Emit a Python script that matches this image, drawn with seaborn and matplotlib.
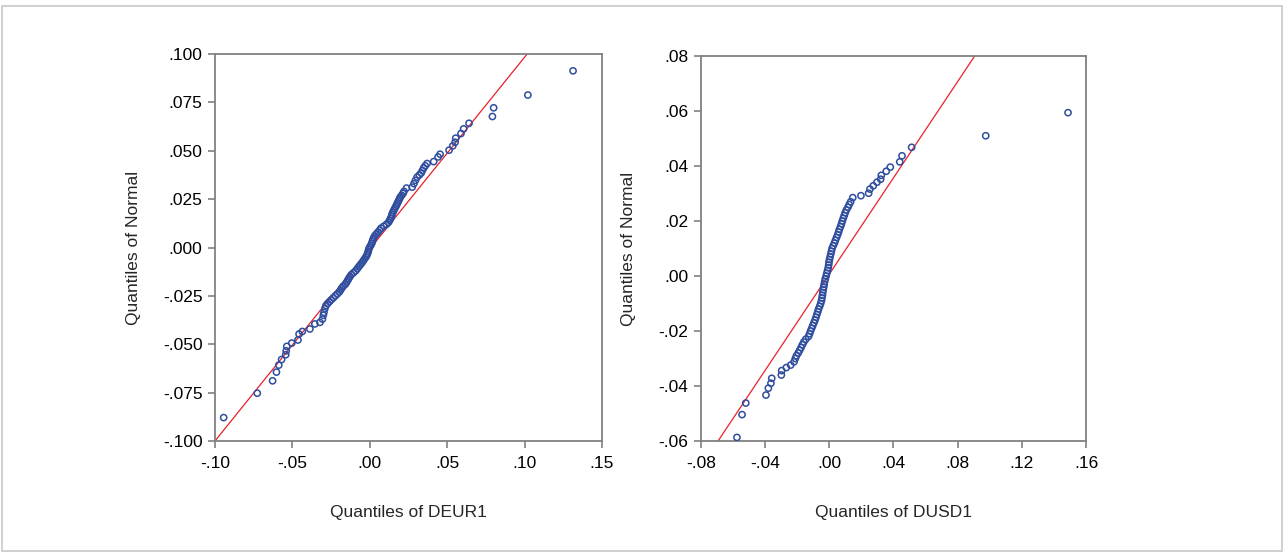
import numpy as np
import pandas as pd
import matplotlib
matplotlib.use("Agg")
import matplotlib.pyplot as plt
import seaborn as sns
from matplotlib.patches import Rectangle

# ---------------- data: left panel (DEUR1) ----------------
eur_x = [-0.0944, -0.0727, -0.0628, -0.0603, -0.0588, -0.0570, -0.0543, -0.0540, -0.0536, -0.0504,
         -0.0464, -0.0457, -0.0436, -0.0387, -0.0355, -0.0322, -0.0306, -0.0300, -0.0296, -0.0290,
         -0.0283, -0.0273, -0.0261, -0.0249, -0.0236, -0.0223, -0.0210, -0.0197, -0.0189, -0.0181,
         -0.0172, -0.0158, -0.0150, -0.0143, -0.0136, -0.0128, -0.0119, -0.0105, -0.0091, -0.0081,
         -0.0072, -0.0062, -0.0052, -0.0043, -0.0035, -0.0026, -0.0019, -0.0014, -0.0010, -0.0007,
         -0.0002, 0.0005, 0.0012, 0.0016, 0.0020, 0.0025, 0.0032, 0.0042, 0.0053, 0.0064,
         0.0073, 0.0090, 0.0108, 0.0121, 0.0128, 0.0134, 0.0140, 0.0143, 0.0148, 0.0154,
         0.0160, 0.0167, 0.0173, 0.0179, 0.0185, 0.0191, 0.0197, 0.0206, 0.0215, 0.0221,
         0.0237, 0.0274, 0.0285, 0.0295, 0.0306, 0.0320, 0.0332, 0.0340, 0.0348, 0.0358,
         0.0370, 0.0413, 0.0441, 0.0454, 0.0512, 0.0536, 0.0551, 0.0555, 0.0589, 0.0606,
         0.0641, 0.0792, 0.0800, 0.1021, 0.1313]
eur_y = [-0.0879, -0.0753, -0.0689, -0.0644, -0.0608, -0.0579, -0.0554, -0.0534, -0.0511, -0.0494,
         -0.0478, -0.0447, -0.0434, -0.0421, -0.0395, -0.0387, -0.0370, -0.0350, -0.0335, -0.0315,
         -0.030, -0.029, -0.028, -0.027, -0.026, -0.025, -0.024, -0.023, -0.022, -0.021,
         -0.020, -0.019, -0.018, -0.017, -0.016, -0.015, -0.014, -0.013, -0.012, -0.011,
         -0.010, -0.009, -0.008, -0.007, -0.006, -0.005, -0.004, -0.003, -0.002, -0.001,
         0.000, 0.001, 0.002, 0.003, 0.004, 0.005, 0.006, 0.007, 0.008, 0.009,
         0.010, 0.011, 0.012, 0.013, 0.014, 0.015, 0.016, 0.017, 0.018, 0.019,
         0.020, 0.021, 0.022, 0.023, 0.024, 0.025, 0.026, 0.027, 0.028, 0.029,
         0.0307, 0.0312, 0.0330, 0.0347, 0.0364, 0.0375, 0.0385, 0.0398, 0.0411, 0.0422,
         0.0434, 0.0444, 0.0468, 0.0482, 0.0503, 0.0525, 0.0544, 0.0565, 0.0589, 0.0613,
         0.0642, 0.0677, 0.0722, 0.0788, 0.0913]
eur_line = [-0.0008, 0.9916]   # intercept, slope of reference line

eur_xticks = [-0.10, -0.05, 0.00, 0.05, 0.10, 0.15]
eur_xticklabels = ["-.10", "-.05", ".00", ".05", ".10", ".15"]
eur_yticks = [-0.100, -0.075, -0.050, -0.025, 0.000, 0.025, 0.050, 0.075, 0.100]
eur_yticklabels = ["-.100", "-.075", "-.050", "-.025", ".000", ".025", ".050", ".075", ".100"]

# ---------------- data: right panel (DUSD1) ----------------
usd_x = [-0.0576, -0.0544, -0.0521, -0.0395, -0.0380, -0.0364, -0.0359, -0.0299, -0.0297, -0.0268,
         -0.0241, -0.0220,
         -0.0212, -0.0205, -0.0194, -0.0185, -0.0176, -0.0168, -0.0159, -0.0147, -0.0130, -0.0123,
         -0.0117, -0.0110, -0.0103, -0.0096, -0.0089, -0.0083, -0.0078, -0.0072, -0.0067, -0.0060,
         -0.0054, -0.0049, -0.0046, -0.0043, -0.0041, -0.0038, -0.0035, -0.0032, -0.0029, -0.0025,
         -0.0020, -0.0016, -0.0011, -0.0007, -0.0004, -0.0002, 0.0001, 0.0005, 0.0009, 0.0013,
         0.0017, 0.0024, 0.0032, 0.0038, 0.0045, 0.0052, 0.0058, 0.0063, 0.0070, 0.0076,
         0.0081, 0.0087, 0.0093, 0.0099, 0.0106, 0.0116, 0.0124,
         0.0133, 0.0146, 0.0197, 0.0245, 0.0253, 0.0274, 0.0297, 0.0320, 0.0324, 0.0355,
         0.0380, 0.0439, 0.0453, 0.0513, 0.0975, 0.1488]
usd_y = [-0.0587, -0.0504, -0.0462, -0.0433, -0.0408, -0.0390, -0.0372, -0.0360, -0.0344, -0.0333,
         -0.0324, -0.0312,
         -0.030, -0.029, -0.028, -0.027, -0.026, -0.025, -0.024, -0.023, -0.022, -0.021,
         -0.020, -0.019, -0.018, -0.017, -0.016, -0.015, -0.014, -0.013, -0.012, -0.011,
         -0.010, -0.009, -0.008, -0.007, -0.006, -0.005, -0.004, -0.003, -0.002, -0.001,
         0.000, 0.001, 0.002, 0.003, 0.004, 0.005, 0.006, 0.007, 0.008, 0.009,
         0.010, 0.011, 0.012, 0.013, 0.014, 0.015, 0.016, 0.017, 0.018, 0.019,
         0.020, 0.021, 0.022, 0.023, 0.024, 0.025, 0.026,
         0.0270, 0.0285, 0.0292, 0.0301, 0.0316, 0.0328, 0.0341, 0.0352, 0.0366, 0.0381,
         0.0396, 0.0415, 0.0437, 0.0468, 0.0510, 0.0594]
usd_line = [0.0007, 0.875]

usd_xticks = [-0.08, -0.04, 0.00, 0.04, 0.08, 0.12, 0.16]
usd_xticklabels = ["-.08", "-.04", ".00", ".04", ".08", ".12", ".16"]
usd_yticks = [-0.06, -0.04, -0.02, 0.00, 0.02, 0.04, 0.06, 0.08]
usd_yticklabels = ["-.06", "-.04", "-.02", ".00", ".02", ".04", ".06", ".08"]

xlabels = ["Quantiles of DEUR1", "Quantiles of DUSD1"]
ylabel = "Quantiles of Normal"

# ---------------- drawing ----------------
sns.set_style("white")
plt.rcParams['font.family'] = ['Liberation Sans', 'DejaVu Sans']

fig = plt.figure(figsize=(12.85, 5.54), dpi=100)
fig.patches.append(Rectangle((0.0015, 0.006), 0.996, 0.983, transform=fig.transFigure,
                             fill=False, edgecolor="#c8c8c8", linewidth=1.2))

ax1 = fig.add_axes([215 / 1285, 1 - 441 / 554, 387 / 1285, 387 / 554])
ax2 = fig.add_axes([701 / 1285, 1 - 441 / 554, 385 / 1285, 385 / 554])

panels = [
    (ax1, eur_x, eur_y, eur_line, (-0.10, 0.15), (-0.100, 0.100),
     eur_xticks, eur_xticklabels, eur_yticks, eur_yticklabels, xlabels[0]),
    (ax2, usd_x, usd_y, usd_line, (-0.08, 0.16), (-0.06, 0.08),
     usd_xticks, usd_xticklabels, usd_yticks, usd_yticklabels, xlabels[1]),
]

blue = "#2F4D9E"
red = "#E8202A"
for ax, xs, ys, line, xl, yl, xt, xtl, yt, ytl, xlab in panels:
    df = pd.DataFrame({"x": xs, "y": ys})
    ax.axline((0.0, line[0]), slope=line[1], color=red, linewidth=0.9, zorder=2)
    sns.scatterplot(data=df, x="x", y="y", ax=ax, marker="o", s=20,
                    facecolors="none", edgecolor=blue, linewidth=1.1, zorder=3)
    ax.set_xlim(*xl)
    ax.set_ylim(*yl)
    ax.set_xticks(xt)
    ax.set_xticklabels(xtl)
    ax.set_yticks(yt)
    ax.set_yticklabels(ytl)
    ax.tick_params(axis="both", which="both", direction="out", length=5, width=1.2,
                   color="#808080", labelsize=12.5, labelcolor="#000000", pad=4,
                   left=True, bottom=True, top=False, right=False)
    ax.tick_params(axis="x", pad=6)
    for sp in ax.spines.values():
        sp.set_visible(True)
        sp.set_color("#808080")
        sp.set_linewidth(1.3)
    ax.set_xlabel(xlab, fontsize=12.5, labelpad=24)
    ax.set_ylabel(ylabel, fontsize=12.5, labelpad=16)
    ax.set_facecolor("white")

fig.savefig("out.png", dpi=100, facecolor="white")
